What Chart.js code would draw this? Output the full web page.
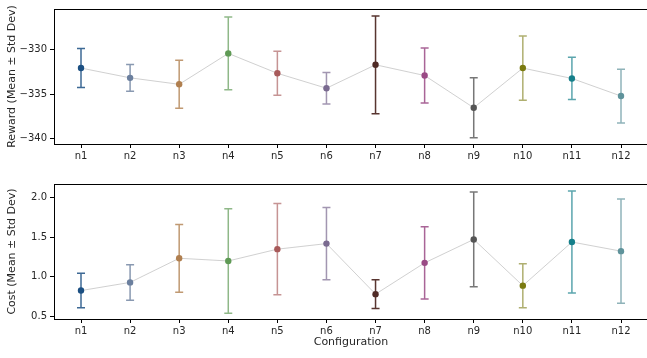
<!DOCTYPE html>
<html>
<head>
<meta charset="utf-8">
<script src="https://cdn.jsdelivr.net/npm/chart.js@4.4.0/dist/chart.umd.min.js"></script>
<style>
  html, body { margin: 0; padding: 0; background: #fff; overflow: hidden; }
  #wrap { position: relative; width: 647px; height: 358px; overflow: hidden; }
  .box { position: absolute; left: 0; width: 652px; }
</style>
</head>
<body>
<div id="wrap">
  <div class="box" style="top:0;height:175px"><canvas id="rewardChart"></canvas></div>
  <div class="box" style="top:175px;height:183px"><canvas id="costChart"></canvas></div>
</div>
<script>
// data
var configs = ["n1", "n2", "n3", "n4", "n5", "n6", "n7", "n8", "n9", "n10", "n11", "n12"];
var rewardMean = [-332.05, -333.15, -333.88, -330.4, -332.64, -334.32, -331.68, -332.89, -336.52, -332.05, -333.22, -335.2];
var rewardStd = [2.2, 1.5, 2.7, 4.1, 2.47, 1.77, 5.5, 3.1, 3.38, 3.62, 2.38, 3.03];
var costMean = [0.827, 0.93, 1.235, 1.201, 1.35, 1.42, 0.782, 1.177, 1.473, 0.889, 1.44, 1.325];
var costStd = [0.218, 0.224, 0.428, 0.659, 0.576, 0.455, 0.181, 0.456, 0.598, 0.278, 0.644, 0.659];
var rewardTicks = [-340, -335, -330];
var costTicks = [0.5, 1.0, 1.5, 2.0];

var pointColors = ["#1b4f82", "#6b7f9e", "#b07f4f", "#5f9a55", "#a85a5a", "#7a6a90",
                   "#4f2a25", "#9a4a85", "#555555", "#7a7a10", "#157f8a", "#5f939b"];
var barColors = ["rgba(27,79,130,0.85)", "rgba(107,127,158,0.8)", "rgba(176,127,79,0.8)", "rgba(95,154,85,0.7)",
                 "rgba(168,90,90,0.65)", "rgba(122,106,144,0.7)", "rgba(79,42,37,0.95)", "rgba(154,74,133,0.85)",
                 "rgba(85,85,85,0.8)", "rgba(122,122,16,0.6)", "rgba(21,127,138,0.7)", "rgba(95,147,155,0.7)"];

var fontFam = "'DejaVu Sans', sans-serif";
var textCol = "#262626";

// error bars + frame, drawn via the chart scales
var errPlugin = {
    id: "errPlugin",
    afterDatasetDraw: function (chart, args) {
        if (args.index !== 0) return;
        var ctx = chart.ctx;
        var xs = chart.scales.x, ys = chart.scales.y;
        var means = chart.options.plugins.errPlugin.means;
        var stds = chart.options.plugins.errPlugin.stds;
        ctx.save();
        ctx.lineWidth = 1.5;
        for (var i = 0; i < means.length; i++) {
            var px = xs.getPixelForValue(i);
            var top = ys.getPixelForValue(means[i] + stds[i]);
            var bot = ys.getPixelForValue(means[i] - stds[i]);
            ctx.strokeStyle = barColors[i];
            ctx.beginPath();
            ctx.moveTo(px, top); ctx.lineTo(px, bot);
            ctx.moveTo(px - 4, top); ctx.lineTo(px + 4, top);
            ctx.moveTo(px - 4, bot); ctx.lineTo(px + 4, bot);
            ctx.stroke();
        }
        ctx.restore();
    },
    afterDraw: function (chart) {
        var a = chart.chartArea, ctx = chart.ctx;
        ctx.save();
        ctx.strokeStyle = "#000";
        ctx.lineWidth = 1;
        ctx.strokeRect(Math.round(a.left) + 0.5, Math.round(a.top) + 0.5,
                       Math.round(a.right - a.left) - 1, Math.round(a.bottom - a.top));
        ctx.restore();
    }
};

function makeChart(id, means, stds, yMin, yMax, yTicks, yTitle, xHeight, padBottom, xTitle, fmt) {
    var pts = means.map(function (m, i) { return { x: i, y: m }; });
    return new Chart(document.getElementById(id), {
        type: "line",
        data: {
            datasets: [{
                data: pts,
                order: 2,
                borderColor: "rgba(200,200,200,0.85)",
                borderWidth: 1,
                pointRadius: 0,
                tension: 0
            }, {
                data: pts,
                order: 1,
                showLine: false,
                pointRadius: 3.2,
                pointBorderWidth: 0,
                pointBackgroundColor: pointColors,
                pointBorderColor: pointColors
            }]
        },
        options: {
            responsive: true,
            maintainAspectRatio: false,
            animation: false,
            layout: { padding: { top: 6, right: 1, left: 0, bottom: padBottom } },
            plugins: {
                legend: { display: false },
                tooltip: { enabled: false },
                errPlugin: { means: means, stds: stds }
            },
            scales: {
                x: {
                    type: "linear",
                    min: -0.55,
                    max: 11.55,
                    afterBuildTicks: function (s) {
                        s.ticks = configs.map(function (c, i) { return { value: i }; });
                    },
                    afterFit: function (s) { s.height = xHeight; },
                    grid: { drawOnChartArea: false, drawTicks: true, tickLength: 4, color: "#000" },
                    border: { display: false },
                    ticks: {
                        autoSkip: false, maxRotation: 0, padding: 2, color: textCol,
                        font: { family: fontFam, size: 10 },
                        callback: function (v) { return configs[v]; }
                    },
                    title: {
                        display: !!xTitle, text: xTitle, color: textCol,
                        font: { family: fontFam, size: 11 }, padding: { top: 0, bottom: 0 }
                    }
                },
                y: {
                    min: yMin,
                    max: yMax,
                    afterBuildTicks: function (s) {
                        s.ticks = yTicks.map(function (v) { return { value: v }; });
                    },
                    afterFit: function (s) { s.width = 54; },
                    grid: { drawOnChartArea: false, drawTicks: true, tickLength: 4, color: "#000" },
                    border: { display: false },
                    ticks: {
                        padding: 3, color: textCol,
                        font: { family: fontFam, size: 10 },
                        callback: fmt
                    },
                    title: {
                        display: true, text: yTitle, color: textCol,
                        font: { family: fontFam, size: 11 }, padding: { top: 6, bottom: 0 }
                    }
                }
            }
        },
        plugins: [errPlugin]
    });
}

makeChart("rewardChart", rewardMean, rewardStd, -340.6, -325.4, rewardTicks,
    "Reward (Mean \u00b1 Std Dev)", 31, 0, "",
    function (v) { return (v < 0 ? "\u2212" : "") + Math.abs(v); });

makeChart("costChart", costMean, costStd, 0.468, 2.173, costTicks,
    "Cost (Mean \u00b1 Std Dev)", 30, 9, "Configuration",
    function (v) { return v.toFixed(1); });
</script>
</body>
</html>
